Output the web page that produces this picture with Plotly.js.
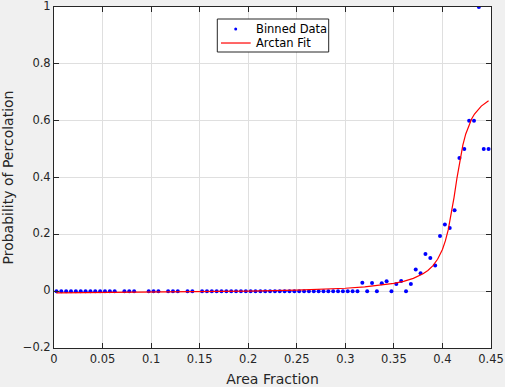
<!DOCTYPE html>
<html>
<head>
<meta charset="utf-8">
<script src="https://cdn.plot.ly/plotly-3.0.1.min.js"></script>
<style>html,body{margin:0;padding:0;background:#f0f0f0;}#chart{width:505px;height:387px;}</style>
</head>
<body>
<div id="chart"></div>
<script>
// Binned data (bin centres, probability of percolation)
const binX = [
  0.0025, 0.0075, 0.0125, 0.0175, 0.0225, 0.0275, 0.0325, 0.0375, 0.0425, 0.0475, 0.0525, 0.0575, 0.0625,
  0.0725, 0.0775, 0.0825,
  0.0975, 0.1025, 0.1075,
  0.1175, 0.1225, 0.1275,
  0.1375, 0.1425,
  0.1525, 0.1575, 0.1625, 0.1675, 0.1725, 0.1775, 0.1825, 0.1875, 0.1925, 0.1975,
  0.2025, 0.2075, 0.2125, 0.2175, 0.2225, 0.2275, 0.2325, 0.2375, 0.2425, 0.2475,
  0.2525, 0.2575, 0.2625, 0.2675, 0.2725, 0.2775, 0.2825, 0.2875, 0.2925, 0.2975,
  0.3025, 0.3075, 0.3125, 0.3175, 0.3225, 0.3275, 0.3325, 0.3375, 0.3425, 0.3475,
  0.3525, 0.3575, 0.3625, 0.3675, 0.3725, 0.3775, 0.3825, 0.3875, 0.3925, 0.3975,
  0.4025, 0.4075, 0.4125, 0.4175, 0.4225, 0.4275, 0.4325, 0.4375, 0.4425, 0.4475
];
const binY = [
  0, 0, 0, 0, 0, 0, 0, 0, 0, 0, 0, 0, 0,
  0, 0, 0,
  0, 0, 0,
  0, 0, 0,
  0, 0,
  0, 0, 0, 0, 0, 0, 0, 0, 0, 0,
  0, 0, 0, 0, 0, 0, 0, 0, 0, 0,
  0, 0, 0, 0, 0, 0, 0, 0, 0, 0,
  0, 0, 0, 0.030, 0, 0.029, 0, 0.028, 0.035, 0,
  0.025, 0.036, 0, 0.025, 0.076, 0.063, 0.131, 0.117, 0.090, 0.194,
  0.235, 0.222, 0.285, 0.469, 0.500, 0.600, 0.600, 1.000, 0.500, 0.500
];
// Arctan fit curve
const fitX = [0.0025, 0.05, 0.1, 0.15, 0.2, 0.25, 0.28, 0.30, 0.32, 0.34, 0.35, 0.36, 0.37, 0.38,
  0.385, 0.39, 0.395, 0.40, 0.403, 0.406, 0.409, 0.412, 0.415, 0.418, 0.421, 0.424, 0.427,
  0.43, 0.433, 0.436, 0.44, 0.4475];
const fitY = [-0.0059, -0.0050, -0.0039, -0.0024, -0.0002, 0.0034, 0.0069, 0.0102, 0.0149, 0.0222,
  0.0274, 0.0347, 0.0450, 0.0612, 0.0730, 0.0891, 0.1121, 0.1469, 0.1768, 0.2164, 0.2681,
  0.3310, 0.3990, 0.4619, 0.5136, 0.5532, 0.5831, 0.6057, 0.6232, 0.6370, 0.6513, 0.6699];

const seriesNames = ['Binned Data', 'Arctan Fit'];
const xTickVals = [0, 0.05, 0.1, 0.15, 0.2, 0.25, 0.3, 0.35, 0.4, 0.45];
const xTickText = ['0', '0.05', '0.1', '0.15', '0.2', '0.25', '0.3', '0.35', '0.4', '0.45'];
const yTickVals = [-0.2, 0, 0.2, 0.4, 0.6, 0.8, 1];
const yTickText = ['\u22120.2', '0', '0.2', '0.4', '0.6', '0.8', '1'];

const FONT = 'DejaVu Sans, Lucida Grande, sans-serif';
const AX = '#262626';
const BLUE = '#0000ff';
const RED = '#ff0000';

const traces = [
  {
    x: binX, y: binY, type: 'scatter', mode: 'markers', name: seriesNames[0],
    marker: {color: BLUE, size: 4}, showlegend: false
  },
  {
    x: fitX, y: fitY, type: 'scatter', mode: 'lines', name: seriesNames[1],
    line: {color: RED, width: 1.2}, showlegend: false
  }
];

const axisCommon = {
  showline: true, linecolor: AX, linewidth: 1, mirror: 'ticks',
  ticks: 'inside', ticklen: 5, tickwidth: 1, tickcolor: AX,
  showgrid: true, gridcolor: '#dfdfdf', gridwidth: 1, zeroline: false,
  tickfont: {family: FONT, size: 11.5, color: AX}, automargin: false,
  ticklabeloverflow: 'allow'
};

// Legend box (drawn in paper coordinates of the plot area)
const LG = {x0: 0.3737, x1: 0.6286, y0: 0.8680, y1: 0.9648};
const legendShapes = [
  {type: 'rect', xref: 'paper', yref: 'paper', x0: LG.x0, x1: LG.x1, y0: LG.y0, y1: LG.y1,
   fillcolor: '#ffffff', line: {color: AX, width: 1}, layer: 'above'},
  {type: 'circle', xref: 'paper', yref: 'paper', x0: 0.4124, x1: 0.4192, y0: 0.9311, y1: 0.9399,
   fillcolor: BLUE, line: {color: BLUE, width: 0}, layer: 'above'},
  {type: 'line', xref: 'paper', yref: 'paper', x0: 0.3821, x1: 0.4501, y0: 0.8944, y1: 0.8944,
   line: {color: RED, width: 1.2}, layer: 'above'}
];
const legendTexts = [
  {xref: 'paper', yref: 'paper', x: 0.4577, y: 0.9355, xanchor: 'left', yanchor: 'middle',
   text: seriesNames[0], showarrow: false, font: {family: FONT, size: 11.5, color: '#000000'}},
  {xref: 'paper', yref: 'paper', x: 0.4577, y: 0.8944, xanchor: 'left', yanchor: 'middle',
   text: seriesNames[1], showarrow: false, font: {family: FONT, size: 11.5, color: '#000000'}}
];

const layout = {
  width: 505, height: 387,
  paper_bgcolor: '#f0f0f0', plot_bgcolor: '#ffffff',
  margin: {l: 54, r: 14, t: 7, b: 39},
  showlegend: false,
  shapes: legendShapes,
  annotations: legendTexts,
  xaxis: Object.assign({}, axisCommon, {
    range: [0, 0.45], tickmode: 'array', tickvals: xTickVals, ticktext: xTickText,
    title: {text: 'Area Fraction', font: {family: FONT, size: 14, color: AX}, standoff: 9}
  }),
  yaxis: Object.assign({}, axisCommon, {
    range: [-0.2, 1], tickmode: 'array', tickvals: yTickVals, ticktext: yTickText,
    ticklabelshift: -1,
    title: {text: 'Probability of Percolation', font: {family: FONT, size: 14, color: AX}, standoff: 7}
  })
};

Plotly.newPlot('chart', traces, layout, {displayModeBar: false, staticPlot: true});
</script>
</body>
</html>
